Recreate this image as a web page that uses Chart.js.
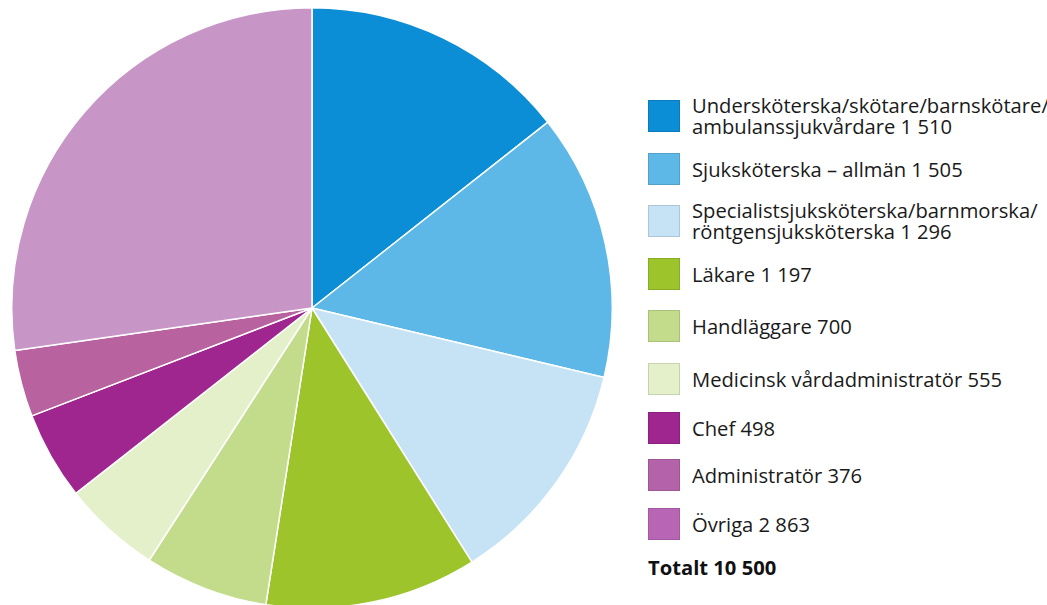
<!DOCTYPE html>
<html><head><meta charset="utf-8">
<script src="https://cdn.jsdelivr.net/npm/chart.js@4/dist/chart.umd.min.js"></script>
<style>
html,body{margin:0;padding:0;background:#fff;width:1047px;height:605px;overflow:hidden;font-family:"Open Sans","Noto Sans",sans-serif;}
#wrap{position:absolute;left:11px;top:7px;width:602px;height:602px;}
#legend{position:absolute;left:0;top:0;}
.row{position:absolute;left:648px;display:flex;align-items:center;}
.box{width:32px;height:32px;box-sizing:border-box;border:1px solid rgba(0,0,0,0.12);flex:none;}
.lbl{margin-left:12px;font-size:20.2px;line-height:21px;color:#1a1a1a;white-space:nowrap;}
.total{position:absolute;left:648px;top:553px;font-size:20.2px;font-weight:700;color:#111;white-space:nowrap;}
</style></head><body>
<div id="wrap"><canvas id="c" width="602" height="602"></canvas></div>
<div id="legend"></div>
<script>
const categories = [
  "Undersköterska/skötare/barnskötare/\nambulanssjukvårdare",
  "Sjuksköterska – allmän",
  "Specialistsjuksköterska/barnmorska/\nröntgensjuksköterska",
  "Läkare",
  "Handläggare",
  "Medicinsk vårdadministratör",
  "Chef",
  "Administratör",
  "Övriga"
];
const values = [1510, 1505, 1296, 1197, 700, 555, 498, 376, 2863];
const valueLabels = ["1 510", "1 505", "1 296", "1 197", "700", "555", "498", "376", "2 863"];
const totalLabel = "Totalt 10 500";
const sliceColors = ["#0b8ed5","#5db8e8","#c6e3f6","#9dc42b","#c3dc8b","#e4f0c9","#a0268f","#b8629f","#c895c7"];
const legendColors = ["#0b8ed5","#5db8e8","#c6e3f6","#9dc42b","#c3dc8b","#e4f0c9","#a0268f","#b463aa","#b865b5"];

new Chart(document.getElementById('c'), {
  type: 'pie',
  data: { labels: categories, datasets: [{ data: values, backgroundColor: sliceColors, borderColor: '#ffffff', borderWidth: 1.5 }] },
  options: {
    responsive: false, animation: false,
    layout: { padding: 0 },
    plugins: { legend: { display: false }, tooltip: { enabled: false } }
  }
});

const boxTops = [100,153,205,258,310,363,412,459,508];
const leg = document.getElementById('legend');
categories.forEach((c, i) => {
  const row = document.createElement('div');
  row.className = 'row';
  const lines = c.split('\n');
  const h = lines.length > 1 ? 42 : 32;
  row.style.top = (boxTops[i] + 16 - h / 2) + 'px';
  row.style.height = h + 'px';
  const b = document.createElement('div');
  b.className = 'box';
  b.style.background = legendColors[i];
  const t = document.createElement('div');
  t.className = 'lbl';
  t.innerHTML = lines.map((l, k) => k === lines.length - 1 ? l + ' ' + valueLabels[i] : l).join('<br>');
  row.appendChild(b); row.appendChild(t);
  leg.appendChild(row);
});
const tot = document.createElement('div');
tot.className = 'total';
tot.textContent = totalLabel;
leg.appendChild(tot);
</script>
</body></html>
